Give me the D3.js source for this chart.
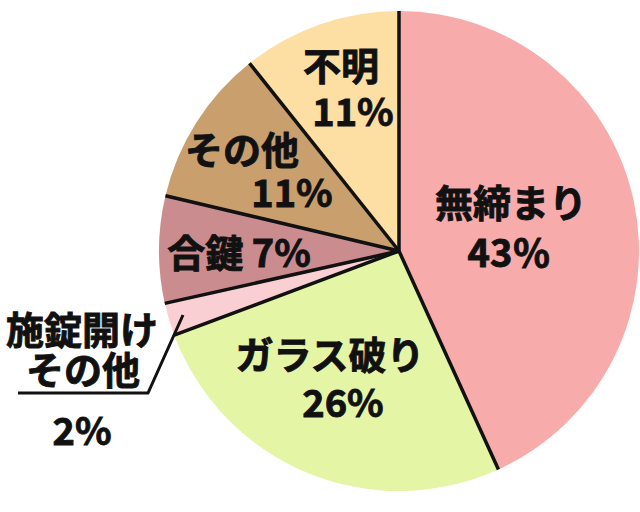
<!DOCTYPE html>
<html>
<head>
<meta charset="utf-8">
<script src="https://cdn.jsdelivr.net/npm/d3@7"></script>
<style>
  body { margin: 0; background: #fff; }
  text { font-family: "Noto Sans CJK JP", "Noto Sans", sans-serif; font-weight: bold; fill: #111; stroke: #111; stroke-width: 0.9px; }
</style>
</head>
<body>
<div id="chart"></div>
<script>
// categories clockwise from 12 o'clock
const categories = ["無締まり", "ガラス破り", "施錠開けその他", "合鍵", "その他", "不明"];
const values = [43.2, 26.1, 2.2, 7.2, 10.6, 10.7];
const pctLabels = ["43％", "26%", "2%", "7%", "11%", "11%"];
const colors = ["#F8ABAB", "#E5F5A6", "#F9CFD3", "#CB8C90", "#C89F6D", "#FDDFA3"];

const width = 640, height = 512;
const cx = 399, cy = 251, radius = 240;

const svg = d3.select("#chart").append("svg")
    .attr("width", width)
    .attr("height", height);

const g = svg.append("g")
    .attr("transform", "translate(" + cx + "," + cy + ")");

const pie = d3.pie().sort(null).value(d => d);
const arcs = pie(values);
const arc = d3.arc().innerRadius(0).outerRadius(radius);

g.selectAll("path.slice")
    .data(arcs)
    .enter()
    .append("path")
    .attr("class", "slice")
    .attr("d", arc)
    .style("fill", (d, i) => colors[i]);

// separators between slices (no outline round the pie)
g.selectAll("line.sep")
    .data(arcs)
    .enter()
    .append("line")
    .attr("class", "sep")
    .attr("x1", 0).attr("y1", 0)
    .attr("x2", d => radius * Math.sin(d.startAngle))
    .attr("y2", d => -radius * Math.cos(d.startAngle))
    .attr("stroke", "#111")
    .attr("stroke-width", 3.5)
    .attr("stroke-linecap", "butt");

// labels: [lines], x, baselines (page coords)
const labelSpec = [
    {lines: ["無締まり", pctLabels[0]], x: [511, 509], y: [217, 267]},
    {lines: ["ガラス破り", pctLabels[1]], x: [330, 343], y: [369, 417]},
    {lines: ["施錠開け", "その他", pctLabels[2]], x: [82, 83, 82], y: [344, 384, 445]},
    {lines: ["合鍵 " + pctLabels[3]], x: [239], y: [267]},
    {lines: ["その他", pctLabels[4]], x: [242, 292], y: [164, 207]},
    {lines: ["不明", pctLabels[5]], x: [341, 353], y: [80, 126]}
];

labelSpec.forEach(spec => {
    spec.lines.forEach((t, j) => {
        svg.append("text")
            .attr("x", spec.x[j])
            .attr("y", spec.y[j])
            .attr("text-anchor", "middle")
            .style("font-size", "38px")
            .text(t);
    });
});

// leader line for the small slice
svg.append("polyline")
    .attr("points", "18,393 148,393 183,315")
    .attr("fill", "none")
    .attr("stroke", "#111")
    .attr("stroke-width", 3);
</script>
</body>
</html>
